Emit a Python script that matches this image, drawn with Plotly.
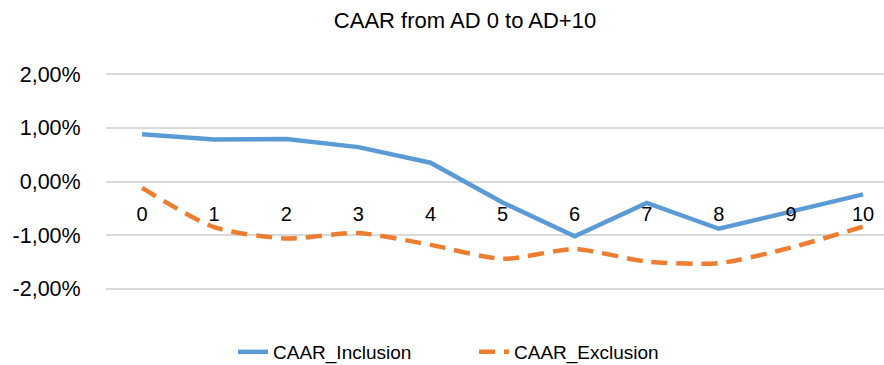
import plotly.graph_objects as go

categories = ["0", "1", "2", "3", "4", "5", "6", "7", "8", "9", "10"]
caar_inclusion = [0.88, 0.78, 0.79, 0.64, 0.35, -0.39, -1.02, -0.40, -0.88, -0.57, -0.24]
caar_exclusion = [-0.12, -0.85, -1.06, -0.96, -1.18, -1.44, -1.26, -1.49, -1.52, -1.23, -0.84]
y_ticks = [-2, -1, 0, 1, 2]
y_tick_labels = ["-2,00%", "-1,00%", "0,00%", "1,00%", "2,00%"]

FONT = "Liberation Sans, Arial, sans-serif"

fig = go.Figure()
fig.add_trace(go.Scatter(
    x=list(range(len(categories))), y=caar_inclusion, name="CAAR_Inclusion",
    mode="lines", line=dict(color="#5B9BD5", width=4.5),
))
fig.add_trace(go.Scatter(
    x=list(range(len(categories))), y=caar_exclusion, name="CAAR_Exclusion",
    mode="lines", line=dict(color="#ED7D31", width=4.5, dash="16px,9px", shape="spline", smoothing=0.7),
))

fig.update_layout(
    width=884, height=365,
    margin=dict(l=106, r=0, t=73, b=75, autoexpand=False),
    paper_bgcolor="white", plot_bgcolor="white",
    font=dict(family=FONT, size=20, color="#000000"),
    title=dict(text="CAAR from AD 0 to AD+10", x=465 / 884, xanchor="center", y=1 - 20 / 365, yanchor="middle",
               font=dict(family=FONT, size=22, color="#000000")),
    showlegend=True,
    legend=dict(orientation="h", x=233 / 884, xanchor="left", xref="container",
                y=1 - 352 / 365, yanchor="middle", yref="container",
                font=dict(family=FONT, size=19, color="#000000"), entrywidth=196, entrywidthmode="pixels",
                traceorder="normal", bgcolor="rgba(0,0,0,0)"),
)
fig.update_xaxes(
    range=[-0.5, 10.29], tickmode="array", tickvals=list(range(len(categories))), ticktext=categories,
    showgrid=False, zeroline=False, showline=False, anchor="free", position=2.02 / 4.04, automargin=False,
    ticks="outside", ticklen=14, tickcolor="rgba(0,0,0,0)", tickfont=dict(family=FONT, size=20),
)
fig.update_yaxes(
    range=[-2.02, 2.02], tickmode="array", tickvals=y_ticks, ticktext=y_tick_labels, automargin=False,
    showgrid=True, gridcolor="#D9D9D9", gridwidth=1.5, zeroline=False, showline=False,
    ticks="outside", ticklen=20, tickcolor="rgba(0,0,0,0)", tickfont=dict(family=FONT, size=21.5),
)
fig.write_html("out.html", config={"displayModeBar": False},
               post_script="document.body.style.margin='0';")
